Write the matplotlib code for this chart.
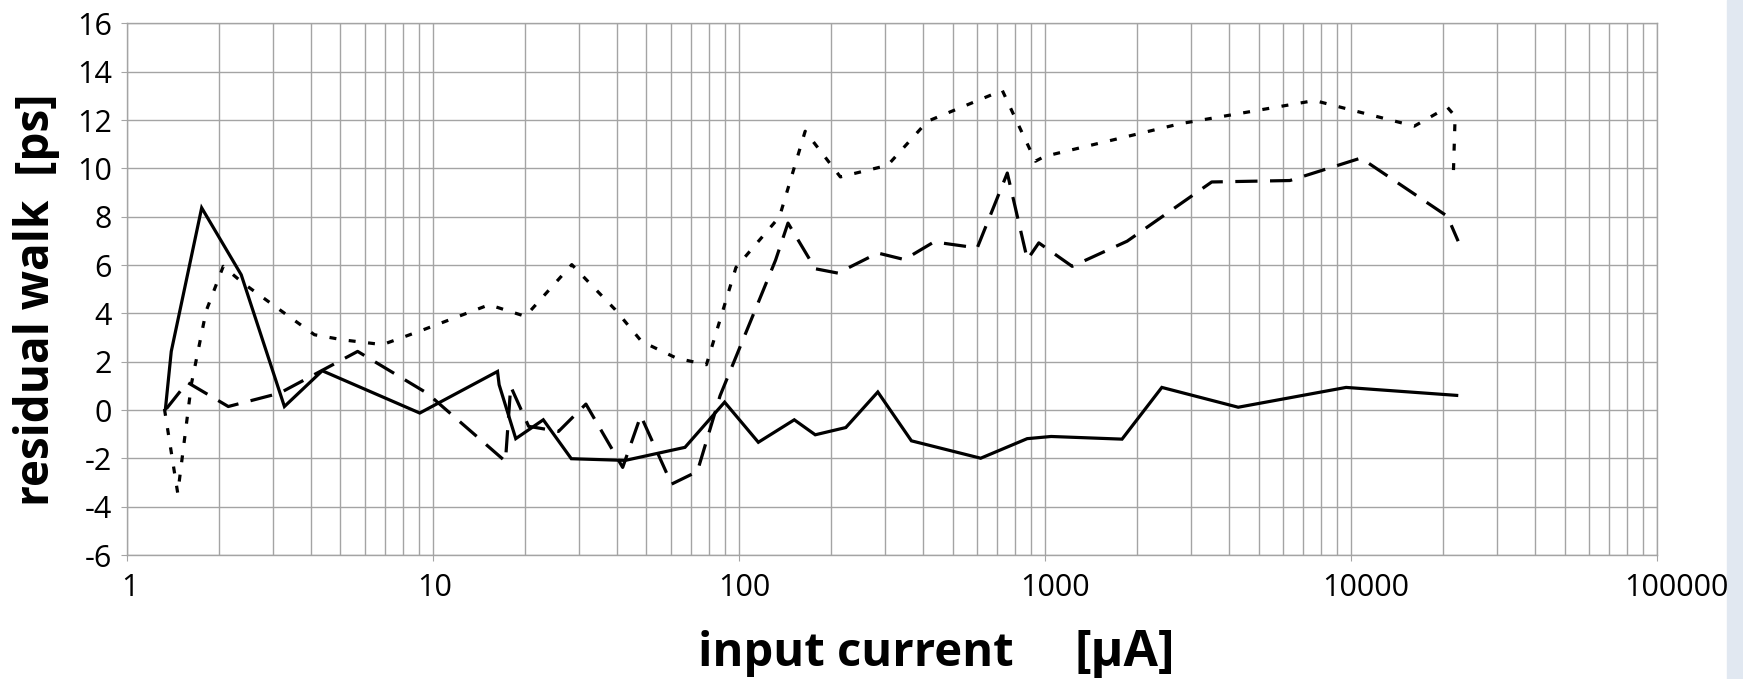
import matplotlib
matplotlib.use('Agg')
import matplotlib.pyplot as plt
import matplotlib.transforms as mtransforms
from matplotlib.ticker import LogLocator, FixedLocator, NullFormatter
from matplotlib.patches import Rectangle

plt.rcParams['font.family'] = ['Open Sans', 'DejaVu Sans']
plt.rcParams['lines.scale_dashes'] = False
plt.rcParams['axes.unicode_minus'] = False

# input current [uA] vs residual walk [ps], three curves
solid_x = [1.34, 1.40, 1.76, 2.37, 3.28, 4.36, 9.08, 16.3, 16.5, 18.7, 23.0, 28.4,
           42.6, 66.8, 90, 116, 152, 178, 224, 285, 367, 618, 877, 1050, 1790,
           2415, 4290, 9660, 22200]
solid_y = [0.06, 2.43, 8.37, 5.6, 0.15, 1.63, -0.12, 1.6, 1.05, -1.18, -0.40, -2.01,
           -2.08, -1.54, 0.33, -1.33, -0.40, -1.02, -0.72, 0.75, -1.27, -1.99, -1.18,
           -1.09, -1.2, 0.94, 0.12, 0.94, 0.61]

dash_x = [1.35, 1.58, 2.15, 3.16, 5.69, 9.6, 17.3, 18.0, 20.6, 25.8, 31.7, 41.8,
          47.9, 60.4, 73.3, 87, 132, 145, 178, 211, 285, 348, 435, 602, 755, 878,
          957, 1230, 1860, 3515, 6330, 10800, 20700, 22450]
dash_y = [0.06, 1.15, 0.15, 0.7, 2.43, 0.7, -2.12, 0.98, -0.67, -0.88, 0.25, -2.37,
          -0.23, -3.06, -2.54, 0.6, 6.2, 7.74, 5.85, 5.67, 6.5, 6.23, 6.96, 6.71,
          9.81, 6.23, 6.92, 5.95, 6.99, 9.44, 9.5, 10.43, 8.02, 6.99]

dot_x = [1.33, 1.47, 1.63, 1.82, 2.07, 2.40, 3.16, 4.11, 5.08, 6.86, 9.04, 15.3,
         20.1, 28.5, 39.5, 48.2, 62.7, 78.5, 98, 136, 165, 215, 307, 414, 727, 933,
         1000, 2770, 7620, 16140, 20700, 21940, 21630]
dot_y = [0.05, -3.44, 1.1, 4.1, 5.95, 5.26, 4.16, 3.12, 2.91, 2.71, 3.26, 4.36,
         3.88, 6.02, 4.16, 2.84, 2.15, 1.88, 5.9, 8.0, 11.54, 9.65, 10.13, 11.95,
         13.23, 10.3, 10.5, 11.85, 12.81, 11.75, 12.53, 12.16, 9.58]

x_ticks = [1, 10, 100, 1000, 10000, 100000]
x_tick_labels = ['1', '10', '100', '1000', '10000', '100000']
y_ticks = list(range(-6, 17, 2))

fig = plt.figure(figsize=(17.43, 6.79), dpi=100)
ax = fig.add_axes([0.0726, 0.1824, 0.8779, 0.7831])

grid_col = '#a4a4a4'
ax.plot(solid_x, solid_y, color='black', lw=2.3, solid_joinstyle='miter')
ax.plot(dash_x, dash_y, color='black', lw=2.3, linestyle=(0, (16, 9)))
ax.plot(dot_x, dot_y, color='black', lw=2.3, linestyle=(0, (5, 9)))

ax.set_xscale('log')
ax.set_xlim(1, 100000)
ax.set_ylim(-6, 16)
ax.xaxis.set_major_locator(FixedLocator(x_ticks))
ax.xaxis.set_minor_locator(LogLocator(base=10, subs=range(2, 10), numticks=20))
ax.xaxis.set_minor_formatter(NullFormatter())
ax.set_xticks(x_ticks)
ax.set_xticklabels(x_tick_labels)
ax.set_yticks(y_ticks)

ax.grid(which='both', color=grid_col, lw=1.0)
ax.set_axisbelow(True)
for s in ax.spines.values():
    s.set_color(grid_col)
    s.set_linewidth(1.0)

ax.tick_params(axis='x', which='major', length=4.5, color=grid_col, pad=8, labelsize=22)
ax.tick_params(axis='x', which='minor', length=0)
ax.tick_params(axis='y', length=4.5, color=grid_col, pad=6, labelsize=22)

# excel-style x labels sit a little right of their ticks (px)
shift_px = [3, 2, 6, 10, 15, 20]
for lab, sh in zip(ax.get_xticklabels(), shift_px):
    lab.set_transform(lab.get_transform() + mtransforms.ScaledTranslation(sh / 100.0, 0, fig.dpi_scale_trans))

fig.text(0.491, 0.019, 'input current', ha='center', va='baseline',
         fontsize=34, fontweight='bold')
fig.text(0.6455, 0.019, '[µA]', ha='center', va='baseline',
         fontsize=36, fontweight='bold')
fig.text(0.021, 0.558, 'residual walk  [ps]', ha='center', va='center',
         rotation=90, fontsize=33, fontweight='bold')

fig.patches.append(Rectangle((0.9908, 0), 0.0092, 1, transform=fig.transFigure,
                             color='#e1e8f1', zorder=-1))

fig.savefig('out.png', dpi=100)
